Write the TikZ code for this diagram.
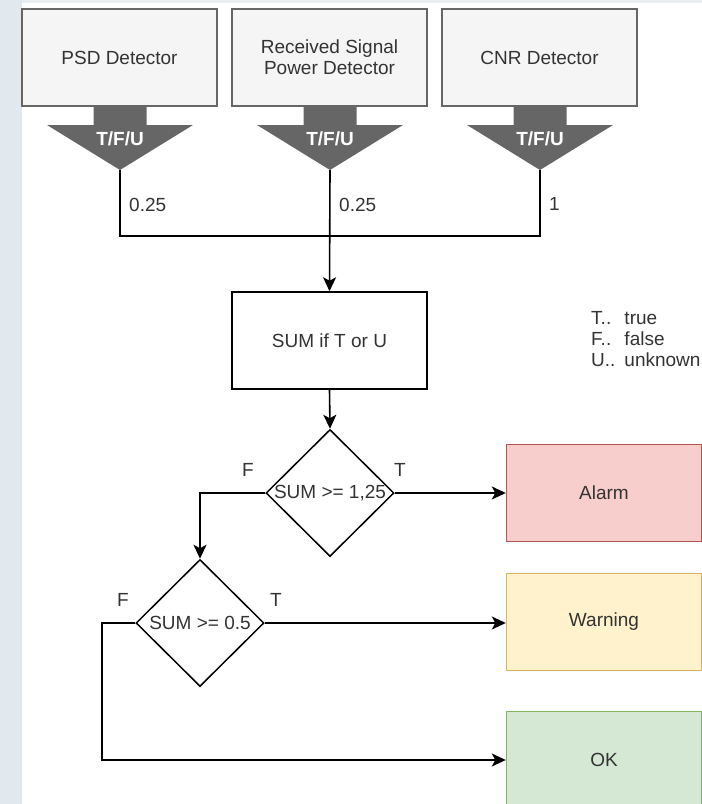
\documentclass[tikz,border=0pt]{standalone}
\usepackage{fontspec}
\setmainfont{Liberation Sans}
\usetikzlibrary{arrows.meta,shapes.geometric}

\definecolor{txt}{HTML}{333333}
\definecolor{detfill}{HTML}{F5F5F5}
\definecolor{detline}{HTML}{666666}
\definecolor{outfill}{HTML}{666666}
\definecolor{redfill}{HTML}{F8CECC}
\definecolor{redline}{HTML}{B85450}
\definecolor{yelfill}{HTML}{FFF2CC}
\definecolor{yelline}{HTML}{D6B656}
\definecolor{grnfill}{HTML}{D5E8D4}
\definecolor{grnline}{HTML}{82B366}
\definecolor{sidebg}{HTML}{E2E9EE}
\definecolor{topbg}{HTML}{E8EEF2}

\newcommand\dfont{\fontsize{19}{21}\selectfont}

\tikzset{
  base/.style={font=\dfont, text=txt, align=center},
  detbox/.style={base, rectangle, draw=detline, fill=detfill, line width=1.4pt,
    minimum width=195pt, minimum height=97pt, inner sep=0pt},
  sumbox/.style={base, rectangle, draw=black, fill=white, line width=1.5pt,
    minimum width=195pt, minimum height=97pt, inner sep=0pt},
  resbox/.style={base, rectangle, line width=1.4pt,
    minimum width=195pt, minimum height=97pt, inner sep=0pt},
  decision/.style={base, diamond, draw=black, line width=1.5pt,
    minimum width=128pt, minimum height=127pt, inner sep=0pt},
  tfushape/.style={fill=outfill},
  tfutext/.style={font=\dfont\bfseries, text=white, inner sep=0pt},
  lbl/.style={font=\dfont, text=txt, inner sep=0pt},
  conn/.style={draw=black, line width=1.6pt},
  arr/.style={conn, -{Stealth[length=14pt,width=13pt,inset=3.5pt]}},
}

\begin{document}
\begin{tikzpicture}[x=1pt, y=-1pt]
  % canvas
  \fill[white] (0,0) rectangle (702,804);
  \fill[sidebg] (0,0) rectangle (22,804);
  \fill[topbg] (22,0) rectangle (702,3);
  \useasboundingbox (0,0) rectangle (702,804);

  % detectors
  \node[detbox] (psd) at (119.5,57.5) {PSD Detector};
  \node[detbox] (rsp) at (329.5,57.5) {Received Signal\\Power Detector};
  \node[detbox] (cnr) at (539.5,57.5) {CNR Detector};

  % T/F/U output arrows below each detector
  \foreach \cx/\n in {120/psd, 330/rsp, 540/cnr} {
    \fill[tfushape] (\cx-26.5,106) -- (\cx+26.5,106) -- (\cx+26.5,125)
      -- (\cx+73,125) -- (\cx,170) -- (\cx-73,125) -- (\cx-26.5,125) -- cycle;
    \node[tfutext] (\n-out) at (\cx,139) {T/F/U};
    \coordinate (\n-tip) at (\cx,170);
  }

  % weights
  \node[lbl, anchor=west] (w1) at (129,205) {0.25};
  \node[lbl, anchor=west] (w2) at (339,205) {0.25};
  \node[lbl, anchor=west] (w3) at (549,204) {1};

  % summation
  \node[sumbox] (sum) at (329.5,340.5) {SUM if T or U};
  \coordinate (bus) at (330,236);

  % legend
  \node[lbl, anchor=north west] (legend) at (591,310)
    {\begin{tabular}{@{}l@{\hspace{9pt}}l@{}}
      T.. & true\\
      F.. & false\\
      U.. & unknown
     \end{tabular}};

  % decisions
  \node[decision] (d1) at (330,493) {\makebox[0pt]{SUM >= 1,25}};
  \node[decision] (d2) at (200,623) {\makebox[0pt]{SUM >= 0.5}};

  % results
  \node[resbox, draw=redline, fill=redfill] (alarm) at (604,493) {Alarm};
  \node[resbox, draw=yelline, fill=yelfill] (warn) at (604,622) {Warning};
  \node[resbox, draw=grnline, fill=grnfill] (ok) at (604,760) {OK};

  % branch labels
  \node[lbl] (f1) at (248,470) {F};
  \node[lbl] (t1) at (400,470) {T};
  \node[lbl] (f2) at (123,600) {F};
  \node[lbl] (t2) at (276,600) {T};

  % connectors
  \draw[conn] (psd-tip) |- (bus);
  \draw[conn] (cnr-tip) |- (bus);
  \draw[arr] (rsp-tip) -- (sum.north);
  \draw[arr] (sum.south) -- (d1.north);
  \draw[arr] (d1.east) -- (d1.east -| alarm.west);
  \draw[arr] (d1.west) -| (d2.north);
  \draw[arr] (d2.east) -- (d2.east -| warn.west);
  \draw[arr] (d2.west) -- ++(-33,0) |- (ok.west);
\end{tikzpicture}
\end{document}
